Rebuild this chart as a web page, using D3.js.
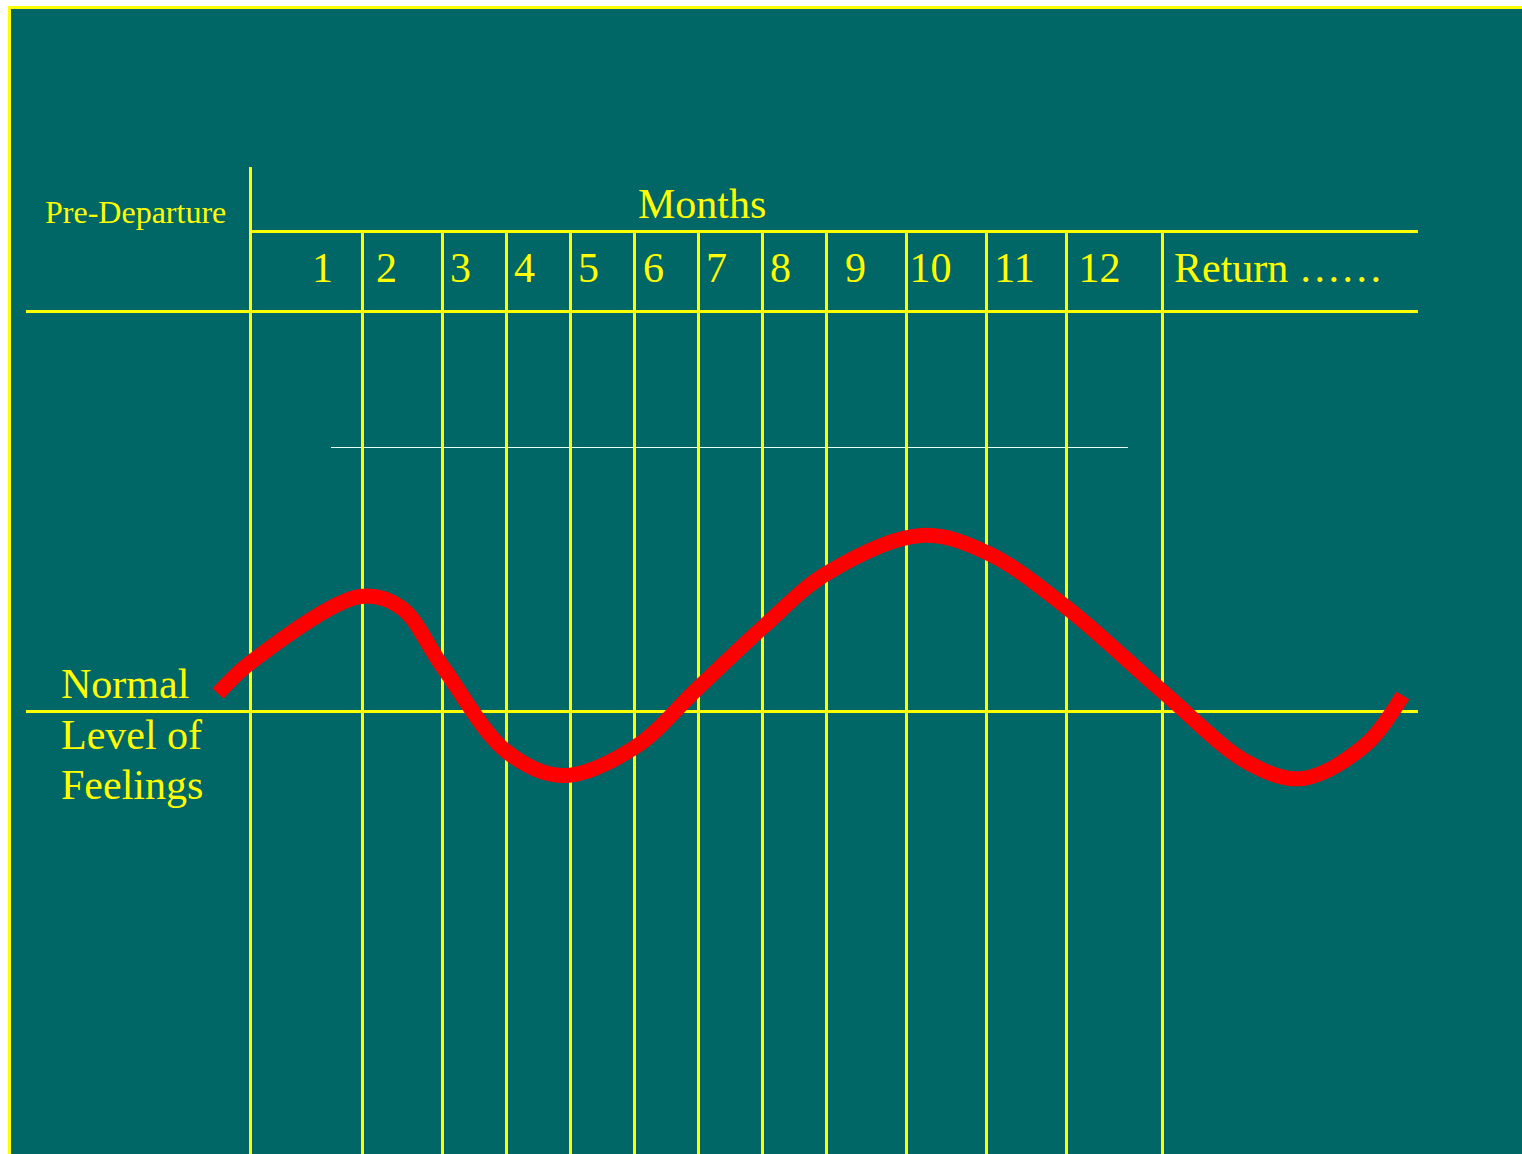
<!DOCTYPE html>
<html>
<head>
<meta charset="utf-8">
<script src="https://cdn.jsdelivr.net/npm/d3@7.9.0/dist/d3.min.js"></script>
<style>
  html, body { margin: 0; padding: 0; background: #fff; }
  svg { display: block; }
  text { font-family: "Liberation Serif", "Times New Roman", serif; fill: #ffff00; }
</style>
</head>
<body>
<svg id="chart" width="1522" height="1154"></svg>
<script>
// month columns (12 months abroad, then return)
const months = ['1', '2', '3', '4', '5', '6', '7', '8', '9', '10', '11', '12'];
const returnLabel = 'Return ……';
const headerLabel = 'Months';
const preLabel = 'Pre-Departure';
const normalLabel = ['Normal', 'Level of', 'Feelings'];

// the adjustment curve: time in months, feeling relative to normal
const curveT = [-0.29, 0, 0.98, 1.48, 2, 3, 3.88, 5, 6, 7, 8, 9.18, 10, 11, 12, 12.34, 12.55, 12.8, 12.94];
const curveFeel = [0.18, 0.49, 1.15, 1.04, 0.45, -0.4, -0.64, -0.36, 0.24, 0.84, 1.38, 1.76, 1.59, 1.04, 0.2, -0.52, -0.67, -0.32, 0.16];

const YEL = '#ffff00';
const svg = d3.select('#chart');

// background panel
svg.append('rect')
  .attr('x', 9.5).attr('y', 7.5)
  .attr('width', 1530).attr('height', 1170)
  .attr('fill', '#006666')
  .attr('stroke', YEL).attr('stroke-width', 3);

// column boundaries are uneven, so the x scale is piecewise
const x = d3.scaleLinear()
  .domain(d3.range(0, 14))
  .range([250.5, 362.5, 442.5, 506.5, 570.5, 634.5, 698.5, 762.5, 826.5, 906.5, 986.5, 1066.5, 1162.5, 1418]);

const y = d3.scaleLinear().domain([-1, 1]).range([811.5, 611.5]);

const g = svg.append('g');

// horizontal rules
g.append('line').attr('x1', x(0)).attr('x2', x(13)).attr('y1', 231.5).attr('y2', 231.5)
  .attr('stroke', YEL).attr('stroke-width', 3);
g.append('line').attr('x1', 26).attr('x2', x(13)).attr('y1', 311.5).attr('y2', 311.5)
  .attr('stroke', YEL).attr('stroke-width', 3);
g.append('line').attr('x1', 26).attr('x2', x(13)).attr('y1', y(0)).attr('y2', y(0))
  .attr('stroke', YEL).attr('stroke-width', 3);

// thin guide line
g.append('line').attr('x1', 331).attr('x2', 1128).attr('y1', 447.5).attr('y2', 447.5)
  .attr('stroke', '#e8ffff').attr('stroke-width', 1.2);

// vertical rules
g.append('line').attr('x1', x(0)).attr('x2', x(0)).attr('y1', 167).attr('y2', 1160)
  .attr('stroke', YEL).attr('stroke-width', 3);
g.selectAll('.vcol')
  .data(d3.range(1, 13))
  .join('line')
  .attr('class', 'vcol')
  .attr('x1', d => x(d)).attr('x2', d => x(d))
  .attr('y1', 231).attr('y2', 1160)
  .attr('stroke', YEL).attr('stroke-width', 3);

// month labels (offset from the left rule of each column)
const labelOffset = [72, 24, 18, 18, 18, 19, 18, 18, 29, 24, 28, 33];
g.selectAll('.mlab')
  .data(months)
  .join('text')
  .attr('class', 'mlab')
  .attr('x', (d, i) => x(i) + labelOffset[i])
  .attr('y', 282)
  .attr('text-anchor', 'middle')
  .attr('font-size', 42)
  .text(d => d);

g.append('text').attr('x', 1174).attr('y', 282).attr('font-size', 42).text(returnLabel);
g.append('text').attr('x', 638).attr('y', 218).attr('font-size', 42).text(headerLabel);
g.append('text').attr('x', 45).attr('y', 223).attr('font-size', 32).text(preLabel);

g.selectAll('.nlab')
  .data(normalLabel)
  .join('text')
  .attr('class', 'nlab')
  .attr('x', 61)
  .attr('y', (d, i) => 698 + i * 50.5)
  .attr('font-size', 42)
  .text(d => d);

// red feeling curve
const pts = curveT.map((t, i) => [t, curveFeel[i]]);
const line = d3.line()
  .x(d => x(d[0]))
  .y(d => y(d[1]))
  .curve(d3.curveCatmullRom.alpha(0.5));

g.append('path')
  .attr('d', line(pts))
  .attr('fill', 'none')
  .attr('stroke', '#ff0000')
  .attr('stroke-width', 15);
</script>
</body>
</html>
